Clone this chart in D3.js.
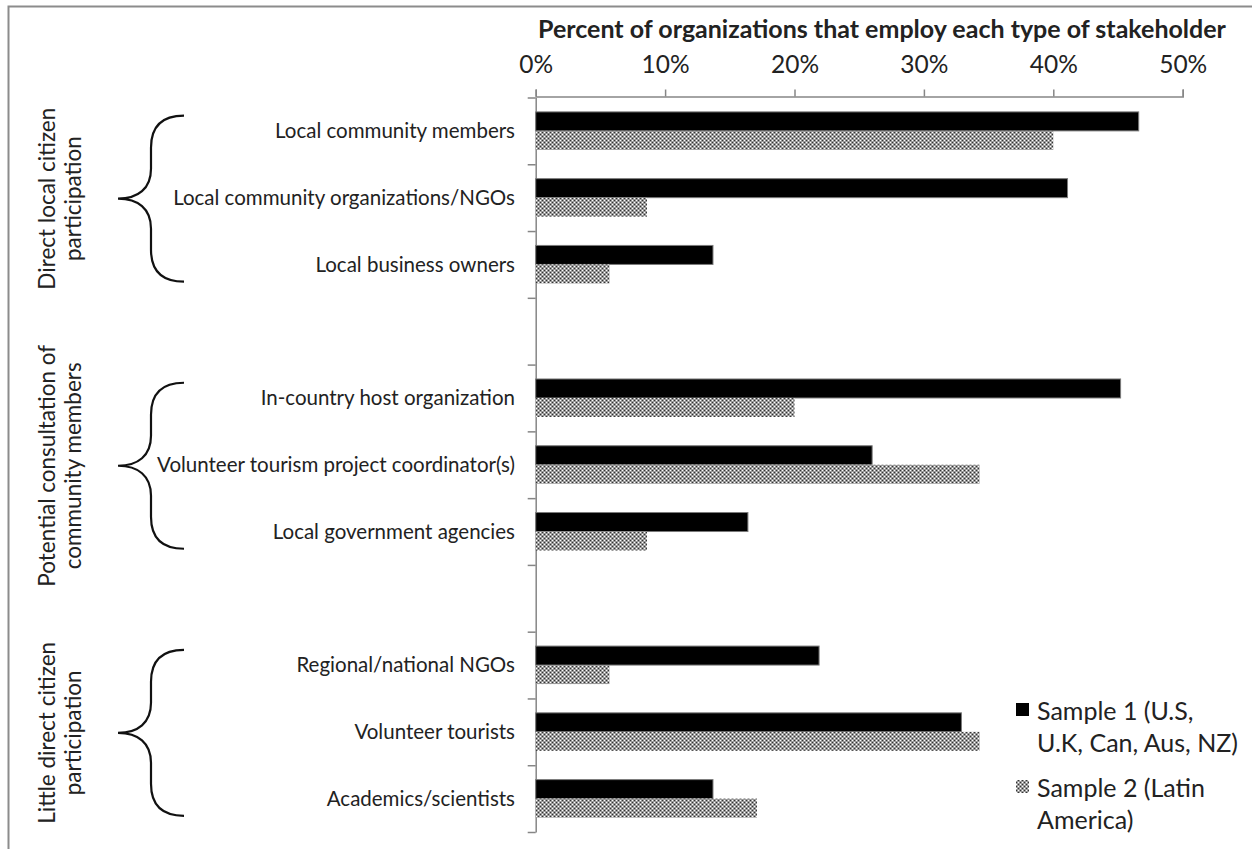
<!DOCTYPE html>
<html>
<head>
<meta charset="utf-8">
<script src="https://cdn.jsdelivr.net/npm/d3@7/dist/d3.min.js"></script>
<style>
  html, body { margin: 0; padding: 0; background: #fff; }
  svg { display: block; }
  text { font-family: Lato, "Open Sans", sans-serif; fill: #222; }
</style>
</head>
<body>
<svg id="chart" width="1252" height="849"></svg>
<script>
// Stakeholder rows, top to bottom; null marks an empty spacer row between groups
const categories = [
  "Local community members",
  "Local community organizations/NGOs",
  "Local business owners",
  null,
  "In-country host organization",
  "Volunteer tourism project coordinator(s)",
  "Local government agencies",
  null,
  "Regional/national NGOs",
  "Volunteer tourists",
  "Academics/scientists"
];

// Share of organizations employing each stakeholder type
const sample1 = [0.466, 0.411, 0.137, null, 0.452, 0.260, 0.164, null, 0.219, 0.329, 0.137];
const sample2 = [0.400, 0.086, 0.057, null, 0.200, 0.343, 0.086, null, 0.057, 0.343, 0.171];

const seriesNames = [
  ["Sample 1 (U.S,", "U.K, Can, Aus, NZ)"],
  ["Sample 2 (Latin", "America)"]
];

const tickValues = [0, 0.1, 0.2, 0.3, 0.4, 0.5];

// Bracketed groups: label lines and the first/last row they cover
const groupLabels = [
  ["Direct local citizen", "participation"],
  ["Potential consultation of", "community members"],
  ["Little direct citizen", "participation"]
];
const groupFirstRow = [0, 4, 8];
const groupLastRow = [2, 6, 10];

const axisTitle = "Percent of organizations that employ each type of stakeholder";

const svg = d3.select("#chart");
const axisGray = "#868686";

// Outer frame
svg.append("rect")
  .attr("x", 8.5).attr("y", 6.5)
  .attr("width", 1300).attr("height", 900)
  .attr("fill", "none").attr("stroke", "#8c8c8c").attr("stroke-width", 2);

// Hatched fill for the second series
const defs = svg.append("defs");
const pat = defs.append("pattern")
  .attr("id", "dots").attr("patternUnits", "userSpaceOnUse")
  .attr("width", 4).attr("height", 4);
pat.append("rect").attr("width", 4).attr("height", 4).attr("fill", "#9a9a9a");
pat.append("rect").attr("x", 0).attr("y", 0).attr("width", 1).attr("height", 1).attr("fill", "#ffffff");
pat.append("rect").attr("x", 2).attr("y", 2).attr("width", 1).attr("height", 1).attr("fill", "#ffffff");
pat.append("rect").attr("x", 2).attr("y", 0).attr("width", 1).attr("height", 1).attr("fill", "#333");
pat.append("rect").attr("x", 0).attr("y", 2).attr("width", 1).attr("height", 1).attr("fill", "#333");

// Scales
const x = d3.scaleLinear().domain([0, 0.5]).range([535.7, 1182.7]);
const rows = d3.range(categories.length);
const y = d3.scaleBand().domain(rows).range([97.5, 832])
  .paddingInner(0.431).paddingOuter(0.2155);
const rowEdge = d3.scaleLinear().domain([0, categories.length]).range([97.5, 832]);
const half = y.bandwidth() / 2;

// Top value axis
const xAxis = d3.axisTop(x).tickValues(tickValues).tickFormat(d3.format(".0%")).tickSize(7).tickPadding(17);
const gx = svg.append("g").attr("transform", "translate(0,96.5)").call(xAxis);
gx.select(".domain").attr("stroke", axisGray).attr("stroke-width", 1.5);
gx.selectAll(".tick line").attr("stroke", axisGray).attr("stroke-width", 1.5);
gx.selectAll(".tick text")
  .style("font-family", "Lato, sans-serif").style("font-size", "24.5px").attr("fill", "#222");

// Left category axis (row dividers only)
const yAxis = d3.axisLeft(rowEdge).tickValues(d3.range(categories.length + 1)).tickFormat("").tickSize(8).tickSizeOuter(0);
const gy = svg.append("g").attr("transform", "translate(535.7,0)").call(yAxis);
gy.select(".domain").attr("stroke", axisGray).attr("stroke-width", 1.5);
gy.selectAll(".tick line").attr("stroke", axisGray).attr("stroke-width", 1.5);

// Axis title
svg.append("text")
  .attr("x", 882).attr("y", 38).attr("text-anchor", "middle")
  .style("font-size", "25px").style("font-weight", "bold")
  .text(axisTitle);

// Bars
const bars = svg.append("g");
bars.selectAll("rect.s1").data(rows.filter(i => sample1[i] != null)).join("rect")
  .attr("class", "s1")
  .attr("x", x(0)).attr("y", i => y(i))
  .attr("width", i => x(sample1[i]) - x(0)).attr("height", half)
  .attr("fill", "#000").attr("stroke", "#7a7a7a").attr("stroke-width", 1);
bars.selectAll("rect.s2").data(rows.filter(i => sample2[i] != null)).join("rect")
  .attr("class", "s2")
  .attr("x", x(0)).attr("y", i => y(i) + half)
  .attr("width", i => x(sample2[i]) - x(0)).attr("height", half)
  .attr("fill", "url(#dots)");

// Category labels
svg.append("g").selectAll("text").data(rows.filter(i => categories[i] != null)).join("text")
  .attr("x", 515).attr("y", i => y(i) + half)
  .attr("dy", "0.35em").attr("text-anchor", "end")
  .style("font-size", "20.5px")
  .text(i => categories[i]);

// Braces and group labels
groupLabels.forEach((lines, g) => {
  const top = rowEdge(groupFirstRow[g]);
  const bot = rowEdge(groupLastRow[g] + 1);
  const cy = (top + bot) / 2 + 1;
  const t = cy - 83, b = cy + 83;
  const tipX = 118, spine = 151, endX = 184;
  const p = d3.path();
  p.moveTo(endX, t);
  p.bezierCurveTo(162, t, spine, t + 10, spine, t + 32);
  p.lineTo(spine, cy - 30);
  p.bezierCurveTo(spine, cy - 10, 138, cy, tipX, cy);
  p.bezierCurveTo(138, cy, spine, cy + 10, spine, cy + 30);
  p.lineTo(spine, b - 32);
  p.bezierCurveTo(spine, b - 10, 162, b, endX, b);
  svg.append("path").attr("d", p.toString())
    .attr("fill", "none").attr("stroke", "#111").attr("stroke-width", 2.2);

  const lbl = svg.append("text")
    .attr("transform", `translate(0,${cy}) rotate(-90)`)
    .attr("text-anchor", "middle")
    .style("font-size", "22.5px");
  lines.forEach((ln, k) => {
    lbl.append("tspan").attr("x", 0).attr("y", 55 + k * 26).text(ln);
  });
});

// Legend
const legend = svg.append("g");
const legendY = [703, 780];
seriesNames.forEach((lines, k) => {
  legend.append("rect")
    .attr("x", 1016).attr("y", legendY[k])
    .attr("width", 13).attr("height", 13)
    .attr("fill", k === 0 ? "#000" : "url(#dots)");
  const txt = legend.append("text").style("font-size", "25px");
  lines.forEach((ln, j) => {
    txt.append("tspan").attr("x", 1037).attr("y", legendY[k] + 17 + j * 32).text(ln);
  });
});
</script>
</body>
</html>
